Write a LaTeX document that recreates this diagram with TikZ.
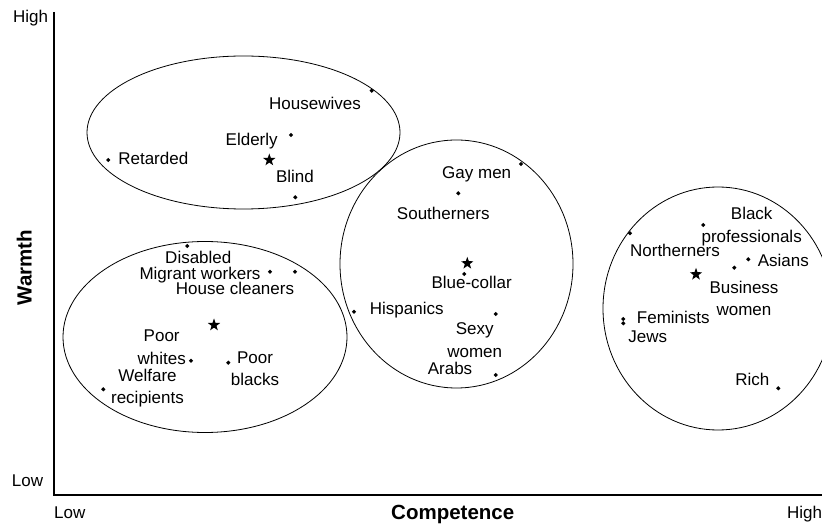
\documentclass[tikz,border=0pt]{standalone}
\usepackage{fontspec}
\setmainfont{Liberation Sans}
\usetikzlibrary{shapes.geometric}
\begin{document}
\begin{tikzpicture}[x=1pt,y=-1pt,
 lbl/.style={inner sep=0pt, text height=12.2pt, text depth=0pt, font=\fontsize{17}{22.4}\selectfont},
 mlbl/.style={inner sep=0pt, align=center, font=\fontsize{17}{22.4}\selectfont},
 pt/.style={diamond, fill=black, inner sep=0pt, minimum size=4.5pt},
 ctr/.style={star, star points=5, star point ratio=2.5, fill=black, inner sep=0pt, minimum size=13pt},
 grp/.style={line width=0.8pt},
 axisline/.style={line width=1.6pt},
 ttl/.style={inner sep=0pt, font=\fontsize{20.5}{24}\selectfont\bfseries}]
\useasboundingbox (0,0) rectangle (822,529);

% axes
\coordinate (top) at (54,12);
\coordinate (origin) at (54,495);
\coordinate (right) at (822,495);
\draw[axisline] (top) -- (origin) -- (right);
\node[lbl] (yhigh) at (30.5,16) {High};
\node[lbl] (ylow) at (27.5,480) {Low};
\node[lbl] (xlow) at (69.7,512) {Low};
\node[lbl] (xhigh) at (804.5,512.7) {High};
\node[ttl, anchor=base west] (xtitle) at (391,519) {Competence};
\node[ttl, rotate=90, anchor=base] (ytitle) at (31.5,267.5) {Warmth};

% clusters
\draw[grp] (243.5,132.5) ellipse [x radius=156.5pt, y radius=76.5pt];
\draw[grp] (205,337) ellipse [x radius=142pt, y radius=95.5pt];
\draw[grp] (456.5,264) ellipse [x radius=116.5pt, y radius=124pt];
\draw[grp] (718,308.5) ellipse [x radius=115pt, y radius=121.5pt];

% cluster 1
\node[ctr] (c1) at (269.3,160) {};
\node[pt] (hw) at (371.7,90.7) {};
\node[lbl] (hwl) at (315,103.3) {Housewives};
\node[pt] (el) at (291,135) {};
\node[lbl] (ell) at (251.7,139) {Elderly};
\node[pt] (re) at (108.3,160) {};
\node[lbl] (rel) at (153.3,158.3) {Retarded};
\node[pt] (bl) at (295.3,197.3) {};
\node[lbl] (bll) at (295,176.7) {Blind};

% cluster 2
\node[ctr] (c2) at (214,325) {};
\node[pt] (di) at (187.3,246) {};
\node[lbl] (dil) at (198.3,257.8) {Disabled};
\node[pt] (mw) at (270,271.7) {};
\node[pt] (hc) at (295,271.7) {};
\node[lbl] (mwl) at (200,273.2) {Migrant workers};
\node[lbl] (hcl) at (235,288.2) {House cleaners};
\node[mlbl] (pwl) at (161.7,347.2) {Poor\\whites};
\node[pt] (pw) at (191,360.7) {};
\node[mlbl] (pbl) at (255,368.7) {Poor\\blacks};
\node[pt] (pb) at (228.3,362.7) {};
\node[mlbl] (wrl) at (147.5,388.3) {Welfare\\recipients};
\node[pt] (wr) at (103.3,389.3) {};

% cluster 3
\node[ctr] (c3) at (467.3,263.3) {};
\node[pt] (gm) at (521,164) {};
\node[lbl] (gml) at (476.7,172.7) {Gay men};
\node[pt] (so) at (458.3,193.3) {};
\node[lbl] (sol) at (443.3,213.3) {Southerners};
\node[pt] (bc) at (464.3,274) {};
\node[lbl] (bcl) at (471.7,282.3) {Blue-collar};
\node[pt] (hi) at (354,311.7) {};
\node[lbl] (hil) at (406.7,308.3) {Hispanics};
\node[pt] (sw) at (495.7,314) {};
\node[mlbl] (swl) at (474.7,340.2) {Sexy\\women};
\node[pt] (ar) at (495.7,375) {};
\node[lbl] (arl) at (450,368.3) {Arabs};

% cluster 4
\node[ctr] (c4) at (696,274.3) {};
\node[pt] (no) at (630,233.3) {};
\node[lbl] (nol) at (675,250) {Northerners};
\node[pt] (bp) at (703.3,225) {};
\node[mlbl] (bpl) at (751.7,226.5) {Black\\professionals};
\node[pt] (as) at (748.3,259.3) {};
\node[lbl] (asl) at (783.3,260.7) {Asians};
\node[pt] (bw) at (734.3,267.7) {};
\node[mlbl] (bwl) at (744,298.3) {Business\\women};
\node[pt] (fe) at (623.3,319) {};
\node[pt] (je) at (623.3,323.3) {};
\node[lbl] (fel) at (673.3,317.7) {Feminists};
\node[lbl] (jel) at (647.7,336) {Jews};
\node[pt] (ri) at (778.3,388.3) {};
\node[lbl] (ril) at (752.3,379.3) {Rich};
\end{tikzpicture}
\end{document}
